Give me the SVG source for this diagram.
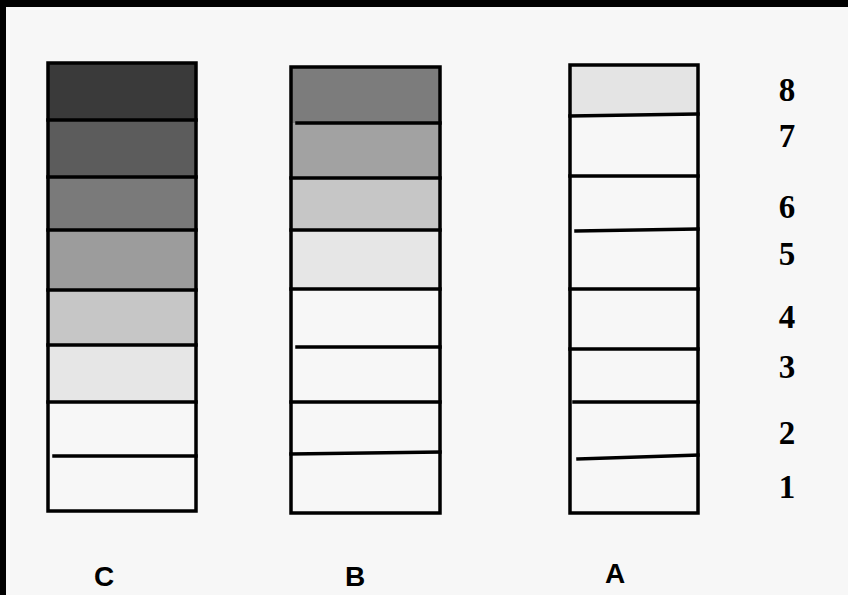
<svg xmlns="http://www.w3.org/2000/svg" width="848" height="595" viewBox="0 0 848 595">
<style>
.ln{stroke:#000;stroke-width:3.5;fill:none;stroke-linecap:square}
.num{font-family:"Liberation Serif","Times New Roman",serif;font-weight:bold;font-size:33px;fill:#000;text-anchor:middle}
.lab{font-family:"Liberation Sans",Arial,sans-serif;font-weight:bold;font-size:28px;fill:#000;text-anchor:middle}
</style>
<rect x="0" y="0" width="848" height="595" fill="#f7f7f7"/>
<rect x="0" y="0" width="848" height="7" fill="#000"/>
<rect x="0" y="0" width="6" height="595" fill="#000"/>
<g id="column-C">
<rect x="48" y="63" width="148" height="57" fill="#3a3a3a"/>
<rect x="48" y="120" width="148" height="57" fill="#5c5c5c"/>
<rect x="48" y="177" width="148" height="53" fill="#7a7a7a"/>
<rect x="48" y="230" width="148" height="60" fill="#9c9c9c"/>
<rect x="48" y="290" width="148" height="55" fill="#c6c6c6"/>
<rect x="48" y="345" width="148" height="57" fill="#e6e6e6"/>
<rect class="ln" x="48" y="63" width="148" height="448"/>
<path class="ln" d="M48 120H196M48 177H196M48 230H196M48 290H196M48 345H196M48 402H196M54 456H196"/>
<text class="lab" x="104" y="586">C</text>
</g>
<g id="column-B">
<rect x="291" y="67" width="149" height="56" fill="#7c7c7c"/>
<rect x="291" y="123" width="149" height="55" fill="#a2a2a2"/>
<rect x="291" y="178" width="149" height="52" fill="#c6c6c6"/>
<rect x="291" y="230" width="149" height="59" fill="#e6e6e6"/>
<rect class="ln" x="291" y="67" width="149" height="446"/>
<path class="ln" d="M297 123H440M291 178H440M291 230H440M291 289H440M297 347H440M291 402H440M291 454L440 452"/>
<text class="lab" x="355" y="586">B</text>
</g>
<g id="column-A">
<rect x="570" y="65" width="128" height="50" fill="#e4e4e4"/>
<rect class="ln" x="570" y="65" width="128" height="448"/>
<path class="ln" d="M570 116L698 114M570 176H698M576 231L698 229M570 289H698M570 349H698M574 402H698M578 459L698 455"/>
<text class="lab" x="615" y="583">A</text>
</g>
<g id="levels">
<text class="num" x="787" y="101">8</text>
<text class="num" x="787" y="147">7</text>
<text class="num" x="787" y="218">6</text>
<text class="num" x="787" y="265">5</text>
<text class="num" x="787" y="328">4</text>
<text class="num" x="787" y="378">3</text>
<text class="num" x="787" y="444">2</text>
<text class="num" x="787" y="498">1</text>
</g>
</svg>
